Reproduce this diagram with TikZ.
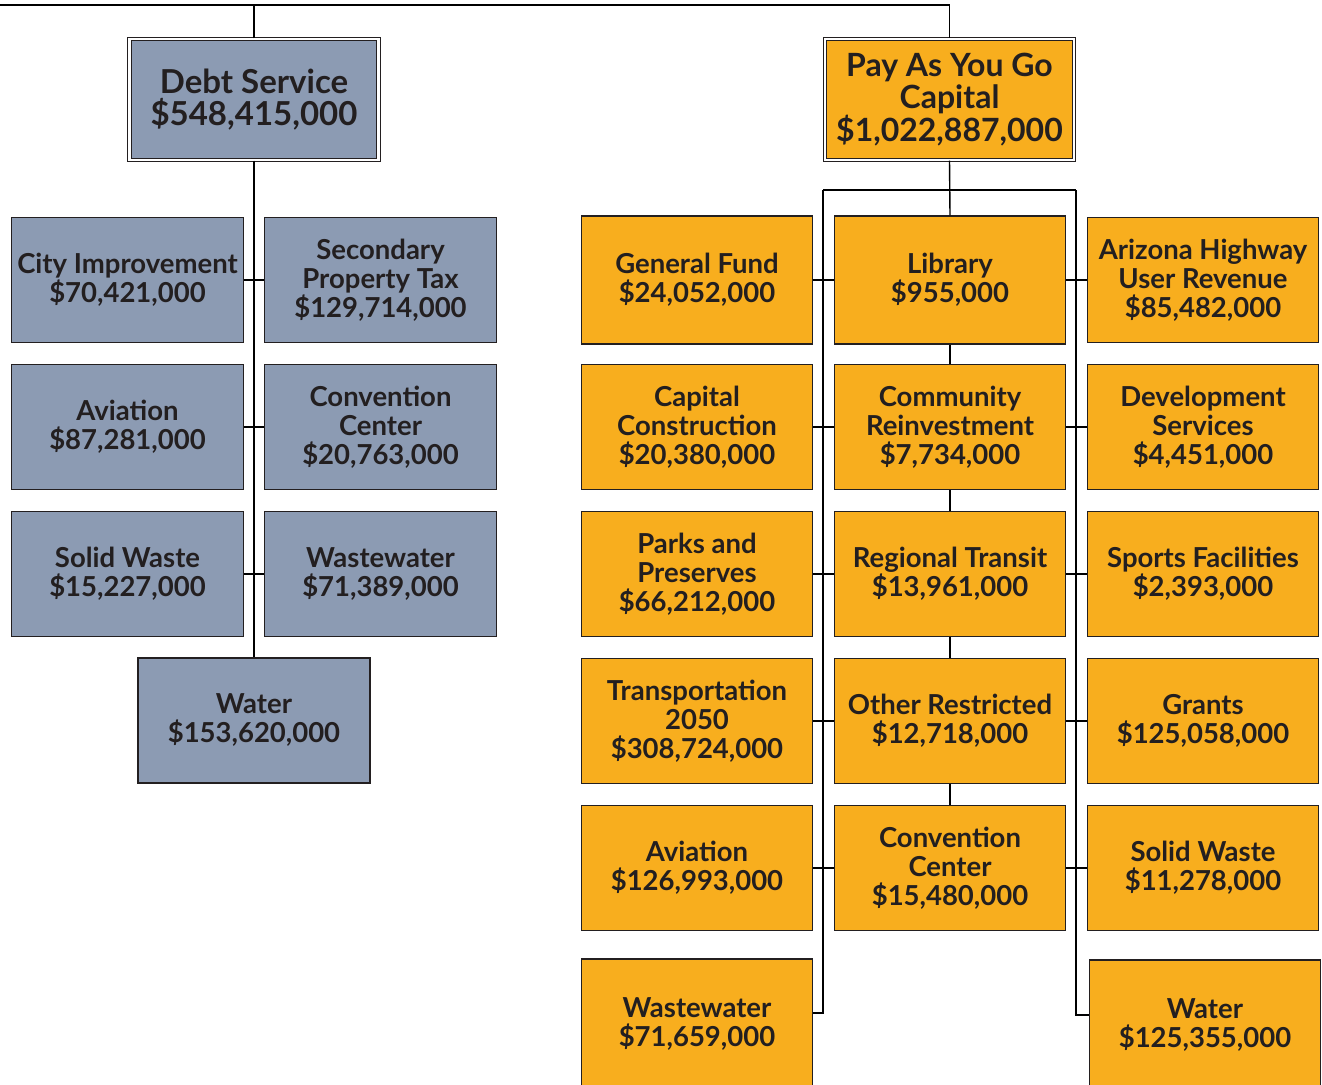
\documentclass[tikz,border=0pt]{standalone}
\usepackage{fontspec}
\setmainfont{Lato}
\definecolor{gfill}{HTML}{8C9BB3}
\definecolor{ofill}{HTML}{F8AE1E}
\definecolor{txt}{HTML}{231F20}
\tikzset{
  base/.style={draw=txt, line width=1.4pt, rectangle, align=center, text=txt, inner sep=1pt,
    font=\fontsize{27.5}{29}\selectfont\bfseries},
  gbox/.style={base, fill=gfill, minimum width=232pt, minimum height=125pt},
  obox/.style={base, fill=ofill, minimum width=231pt, minimum height=128pt},
  topbox/.style={base, double=white, double distance=2.4pt, line width=1.2pt,
    minimum width=249pt, minimum height=121pt, font=\fontsize{33}{32.5}\selectfont\bfseries},
  conn/.style={draw=black, line width=1.4pt}
}
\begin{document}
\begin{tikzpicture}[x=1pt,y=-1pt]
\useasboundingbox (0,0) rectangle (1322,1084);
\fill[white] (0,0) rectangle (1322,1084);
% top level
\node[topbox, fill=gfill] (debt) at (254,99.5) {Debt Service\\\$548,415,000};
\node[topbox, fill=ofill, font=\fontsize{32}{31.5}\selectfont\bfseries] (pay) at (949.5,99.5) {Pay As You Go\\Capital\\\$1,022,887,000};
% debt children
\node[gbox] (ci)  at (127.5,280) {City Improvement\\\$70,421,000};
\node[gbox] (spt) at (380.5,280) {Secondary\\Property Tax\\\$129,714,000};
\node[gbox] (av)  at (127.5,427) {Aviation\\\$87,281,000};
\node[gbox] (cc)  at (380.5,427) {Convention\\Center\\\$20,763,000};
\node[gbox] (sw)  at (127.5,574) {Solid Waste\\\$15,227,000};
\node[gbox] (ww)  at (380.5,574) {Wastewater\\\$71,389,000};
\node[gbox] (wa)  at (254,720.5) {Water\\\$153,620,000};
% pay children
\node[obox] (gf)   at (697,280) {General Fund\\\$24,052,000};
\node[obox] (lib)  at (950,280) {Library\\\$955,000};
\node[obox, minimum height=125pt] (azh)  at (1203,280) {Arizona Highway\\User Revenue\\\$85,482,000};
\node[obox, minimum height=125pt] (capc) at (697,427) {Capital\\Construction\\\$20,380,000};
\node[obox, minimum height=125pt] (cri)  at (950,427) {Community\\Reinvestment\\\$7,734,000};
\node[obox, minimum height=125pt] (ds)   at (1203,427) {Development\\Services\\\$4,451,000};
\node[obox, minimum height=125pt] (pp)   at (697,574) {Parks and\\Preserves\\\$66,212,000};
\node[obox, minimum height=125pt] (rt)   at (950,574) {Regional Transit\\\$13,961,000};
\node[obox, minimum height=125pt] (sf)   at (1203,574) {Sports Facilities\\\$2,393,000};
\node[obox, minimum height=125pt] (t2050) at (697,721) {Transportation\\2050\\\$308,724,000};
\node[obox, minimum height=125pt] (orr)  at (950,721) {Other Restricted\\\$12,718,000};
\node[obox, minimum height=125pt] (gr)   at (1203,721) {Grants\\\$125,058,000};
\node[obox, minimum height=125pt] (avo)  at (697,868) {Aviation\\\$126,993,000};
\node[obox, minimum height=125pt] (cco)  at (950,868) {Convention\\Center\\\$15,480,000};
\node[obox, minimum height=125pt] (swo)  at (1203,868) {Solid Waste\\\$11,278,000};
\node[obox, minimum height=130pt] (wwo)  at (697,1024) {Wastewater\\\$71,659,000};
\node[obox, minimum height=130pt] (wao)  at (1205,1025) {Water\\\$125,355,000};
% connectors
\coordinate (tl) at (0,5);
\coordinate (bl) at (823,190);
\coordinate (br) at (1076,190);
\draw[conn] (tl) -| (pay.north);
\draw[conn] (debt.north) -- (debt.north |- tl);
\draw[conn] (debt.south) -- (wa.north);
\draw[conn] (ci.east) -- (spt.west);
\draw[conn] (av.east) -- (cc.west);
\draw[conn] (sw.east) -- (ww.west);
\draw[conn] (pay.south) -- (lib.north);
\draw[conn] (bl) -- (br);
\draw[conn] (bl) |- ([yshift=11pt]wwo.east);
\draw[conn] (br) |- ([yshift=10pt]wao.west);
\draw[conn] (lib.south) -- (cri.north);
\draw[conn] (cri.south) -- (rt.north);
\draw[conn] (rt.south) -- (orr.north);
\draw[conn] (orr.south) -- (cco.north);
\draw[conn] (gf.east) -- (lib.west);
\draw[conn] (lib.east) -- (azh.west);
\draw[conn] (capc.east) -- (cri.west);
\draw[conn] (cri.east) -- (ds.west);
\draw[conn] (pp.east) -- (rt.west);
\draw[conn] (rt.east) -- (sf.west);
\draw[conn] (t2050.east) -- (orr.west);
\draw[conn] (orr.east) -- (gr.west);
\draw[conn] (avo.east) -- (cco.west);
\draw[conn] (cco.east) -- (swo.west);
\end{tikzpicture}
\end{document}
